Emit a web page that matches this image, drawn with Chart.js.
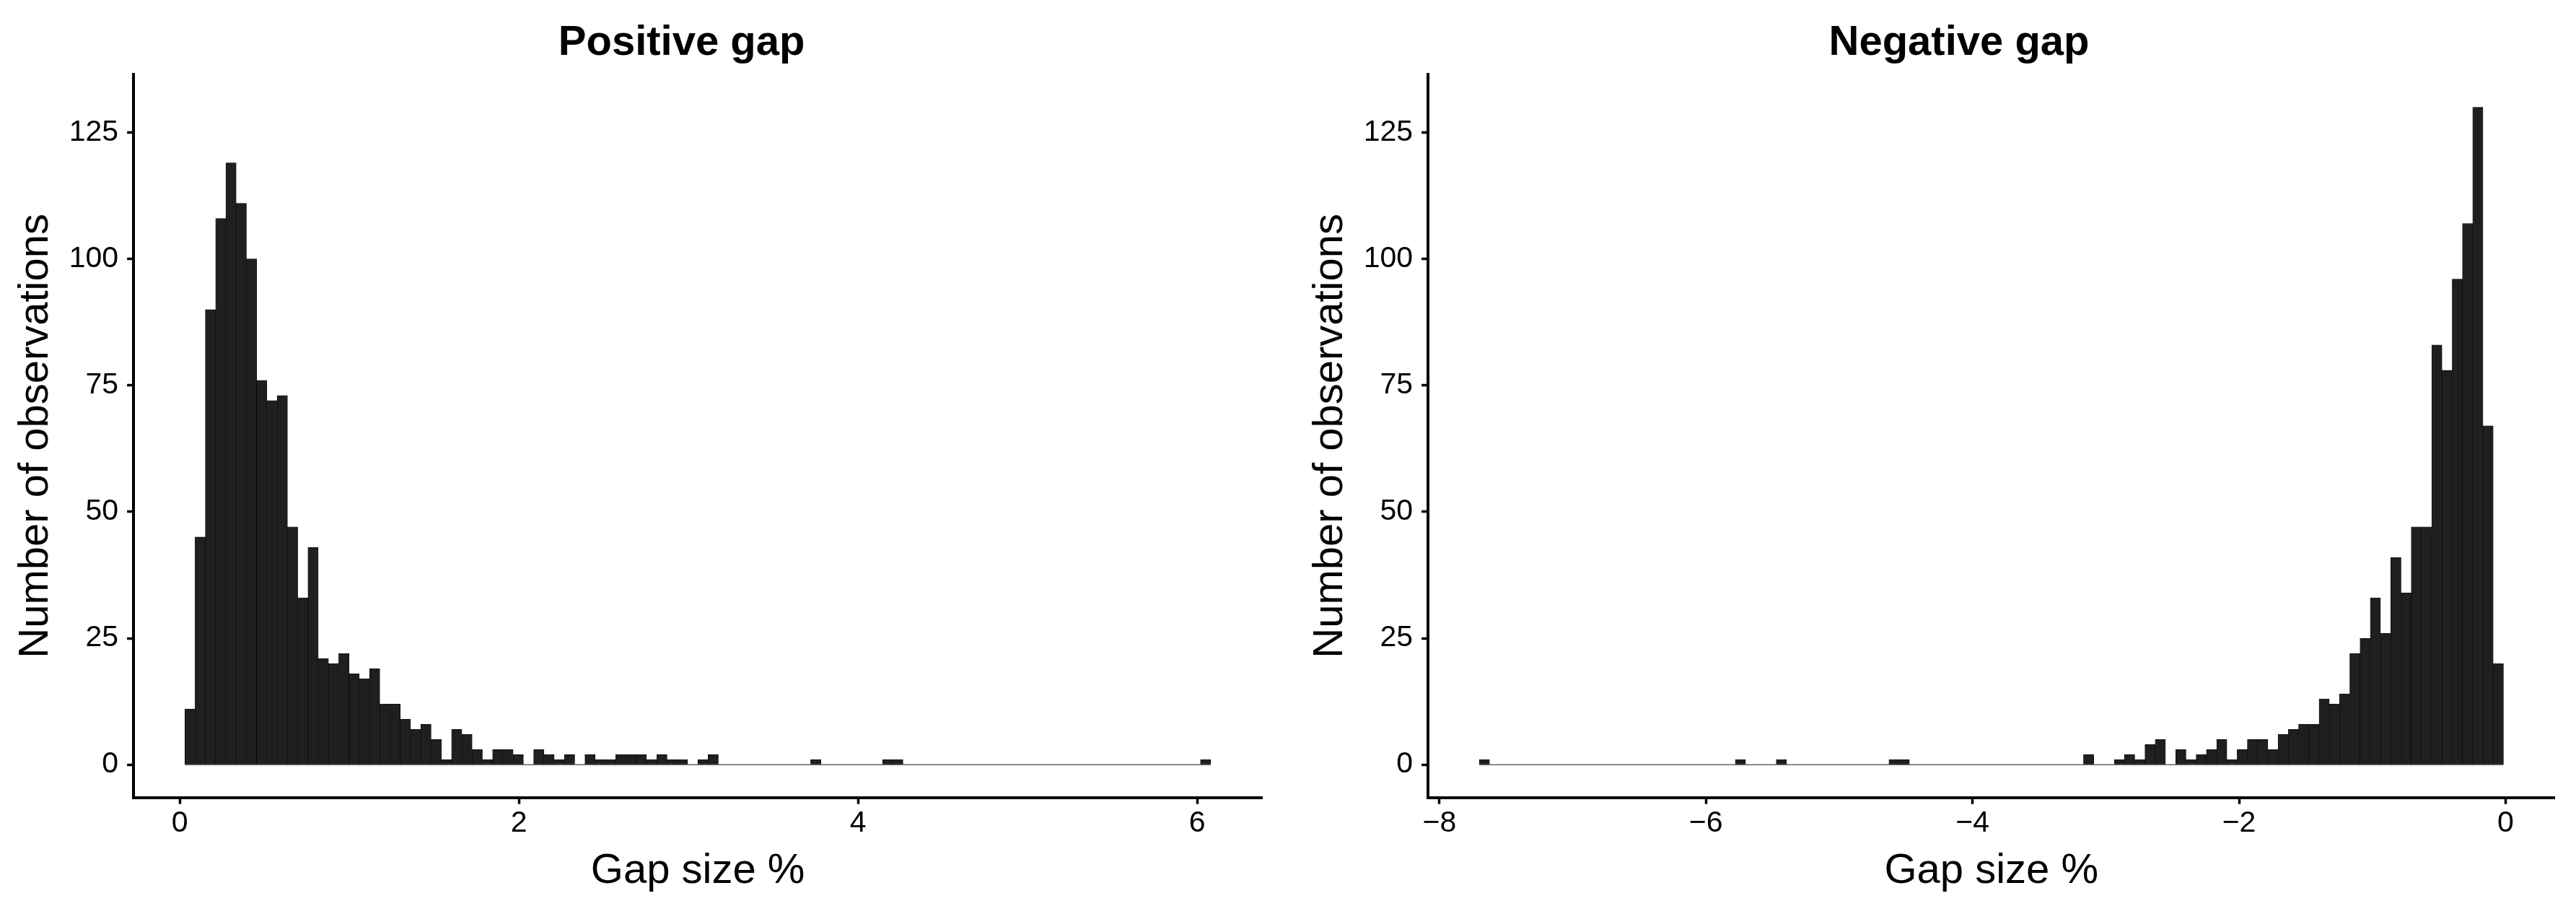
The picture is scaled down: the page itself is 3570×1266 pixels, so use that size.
<!DOCTYPE html>
<html>
<head>
<meta charset="utf-8">
<title>Gap size histograms</title>
<script src="https://cdn.jsdelivr.net/npm/chart.js@4.4.1/dist/chart.umd.min.js"></script>
<style>
  html, body { margin: 0; padding: 0; background: #fff; overflow: hidden; }
  #wrap { position: relative; width: 3570px; height: 1266px; }
  canvas { position: absolute; top: 0; }
  #chart-pos { left: 0; }
  #chart-neg { left: 1794px; }
</style>
</head>
<body>
<div id="wrap">
  <canvas id="chart-pos" width="1794" height="1266"></canvas>
  <canvas id="chart-neg" width="1776" height="1266"></canvas>
</div>
<script>
// Histogram counts (100 bins each)
const POS_COUNTS = [
  11, 45, 90, 108, 119, 111, 100, 76, 72, 73,
  47, 33, 43, 21, 20, 22, 18, 17, 19, 12,
  12, 9, 7, 8, 5, 1, 7, 6, 3, 1,
  3, 3, 2, 0, 3, 2, 1, 2, 0, 2,
  1, 1, 2, 2, 2, 1, 2, 1, 1, 0,
  1, 2, 0, 0, 0, 0, 0, 0, 0, 0,
  0, 1, 0, 0, 0, 0, 0, 0, 1, 1,
  0, 0, 0, 0, 0, 0, 0, 0, 0, 0,
  0, 0, 0, 0, 0, 0, 0, 0, 0, 0,
  0, 0, 0, 0, 0, 0, 0, 0, 0, 1,
]
const POS_BIN_START = 0.030
const POS_BIN_WIDTH = 0.0605

const NEG_COUNTS = [
  1, 0, 0, 0, 0, 0, 0, 0, 0, 0,
  0, 0, 0, 0, 0, 0, 0, 0, 0, 0,
  0, 0, 0, 0, 0, 1, 0, 0, 0, 1,
  0, 0, 0, 0, 0, 0, 0, 0, 0, 0,
  1, 1, 0, 0, 0, 0, 0, 0, 0, 0,
  0, 0, 0, 0, 0, 0, 0, 0, 0, 2,
  0, 0, 1, 2, 1, 4, 5, 0, 3, 1,
  2, 3, 5, 1, 3, 5, 5, 3, 6, 7,
  8, 8, 13, 12, 14, 22, 25, 33, 26, 41,
  34, 47, 47, 83, 78, 96, 107, 130, 67, 20,
]
const NEG_BIN_START = -7.701
const NEG_BIN_WIDTH = 0.07685

const Y_TICKS = [0, 25, 50, 75, 100, 125]
const Y_MIN = -6.5
const Y_MAX = 136.5
const POS_X_TICKS = [0, 2, 4, 6]
const NEG_X_TICKS = [-8, -6, -4, -2, 0]

const TITLES = ['Positive gap', 'Negative gap']
const X_TITLE = 'Gap size %'
const Y_TITLE = 'Number of observations'

const FONT = '"Liberation Sans", Arial, Helvetica, sans-serif'
const BAR_FILL = '#1e201f'

Chart.defaults.font.family = FONT

// Panel title drawn above the plot area
const panelTitlePlugin = {
  id: 'panelTitle',
  afterDraw(chart, args, opts) {
    const { ctx } = chart
    ctx.save()
    ctx.font = `bold 58px ${FONT}`
    ctx.fillStyle = '#000'
    ctx.textAlign = 'center'
    ctx.textBaseline = 'alphabetic'
    ctx.fillText(opts.text, opts.x, 75.5)
    ctx.restore()
  },
}

const fmtTick = (v) => (v < 0 ? '\u2212' + Math.abs(v) : String(v))

function axisCommon() {
  return {
    grid: {
      drawOnChartArea: false,
      drawTicks: true,
      tickLength: 9,
      tickWidth: 3.5,
      tickColor: '#000',
      offset: false,
    },
    border: { display: true, color: '#000', width: 4 },
  }
}

function createHistogram(canvasId, counts, binStart, binWidth, xTicks, title, titleX, rightPad) {
  const canvas = document.getElementById(canvasId)
  const lo = binStart
  const hi = binStart + counts.length * binWidth
  const pad = 0.05 * (hi - lo)

  const bars = counts.map((c, i) => ({ x: binStart + (i + 0.5) * binWidth, y: c }))

  return new Chart(canvas.getContext('2d'), {
    type: 'bar',
    data: {
      datasets: [
        {
          type: 'bar',
          data: bars,
          backgroundColor: BAR_FILL,
          borderColor: '#000',
          borderWidth: 0.6,
          borderSkipped: 'start',
          barPercentage: 1,
          categoryPercentage: 1,
          grouped: false,
          order: 1,
        },
        {
          // outline of empty bins along zero
          type: 'line',
          data: [{ x: lo, y: 0 }, { x: hi, y: 0 }],
          borderColor: '#1a1a1a',
          borderWidth: 1,
          pointRadius: 0,
          order: 2,
        },
      ],
    },
    options: {
      responsive: false,
      animation: false,
      events: [],
      layout: { padding: { top: 103, right: rightPad, bottom: 0, left: 0 } },
      plugins: {
        legend: { display: false },
        tooltip: { enabled: false },
        panelTitle: { text: title, x: titleX },
      },
      scales: {
        x: {
          type: 'linear',
          min: lo - pad,
          max: hi + pad,
          offset: false,
          ...axisCommon(),
          afterBuildTicks: (s) => { s.ticks = xTicks.map(v => ({ value: v })) },
          afterFit: (s) => { s.height = 161.3 },
          ticks: {
            color: '#000',
            font: { size: 41 },
            padding: 2.5,
            autoSkip: false,
            maxRotation: 0,
            callback: fmtTick,
          },
          title: {
            display: true,
            text: X_TITLE,
            color: '#000',
            font: { size: 58 },
            padding: { top: 0, bottom: 24.6 },
          },
        },
        y: {
          type: 'linear',
          min: Y_MIN,
          max: Y_MAX,
          ...axisCommon(),
          afterBuildTicks: (s) => { s.ticks = Y_TICKS.map(v => ({ value: v })) },
          afterFit: (s) => { s.width = 185.1 },
          ticks: {
            color: '#000',
            font: { size: 41 },
            padding: 12,
            callback: fmtTick,
          },
          title: {
            display: true,
            text: Y_TITLE,
            color: '#000',
            font: { size: 58 },
            padding: { top: 15.1, bottom: 0 },
          },
        },
      },
    },
    plugins: [panelTitlePlugin],
  })
}

createHistogram('chart-pos', POS_COUNTS, POS_BIN_START, POS_BIN_WIDTH, POS_X_TICKS, TITLES[0], 944.6, 45)
createHistogram('chart-neg', NEG_COUNTS, NEG_BIN_START, NEG_BIN_WIDTH, NEG_X_TICKS, TITLES[1], 921, 29.6)
</script>
</body>
</html>
